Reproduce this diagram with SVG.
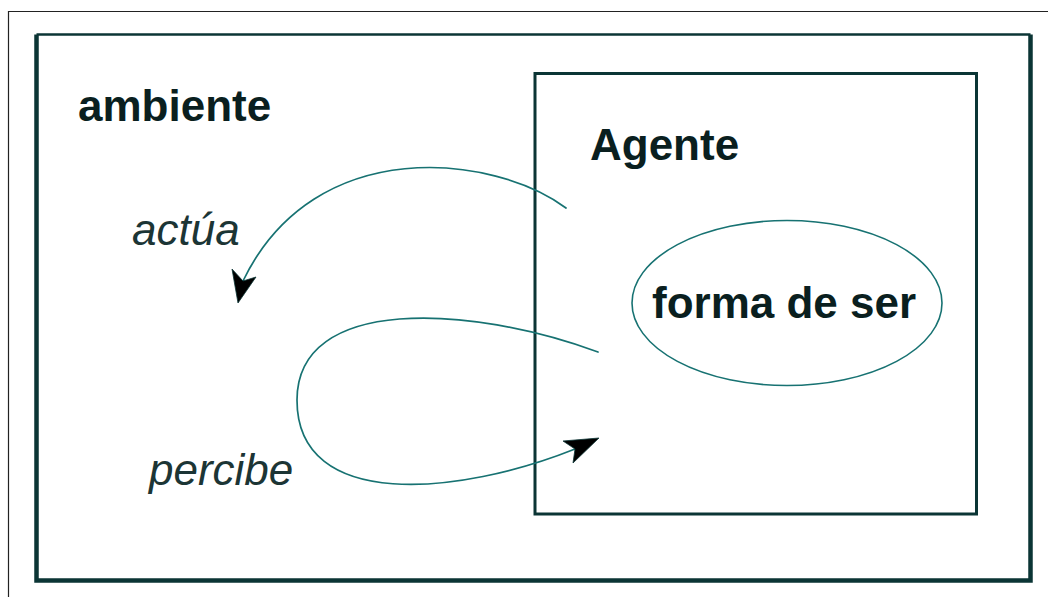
<svg xmlns="http://www.w3.org/2000/svg" width="1048" height="597" viewBox="0 0 1048 597">
  <style>
    .frame { fill: none; stroke: #222; stroke-width: 1.2; }
    .box { fill: none; stroke: #0b3535; }
    .flow { fill: none; stroke: #177272; stroke-width: 1.7; stroke-linecap: round; }
    .head { fill: #000; stroke: #0b3535; stroke-width: 0.8; stroke-linejoin: round; }
    .title { font-family: "Liberation Sans", Arial, sans-serif; font-weight: bold; font-size: 44px; fill: #0a1f1f; }
    .verb { font-family: "Liberation Sans", Arial, sans-serif; font-style: italic; font-size: 44px; fill: #1c3535; }
  </style>
  <rect width="1048" height="597" fill="#fff"/>

  <!-- page frame -->
  <path class="frame" d="M8.5,597 V11.5 H1048"/>

  <!-- environment -->
  <g id="ambiente">
    <path class="box" stroke-width="4.5" d="M36.5,34.5 V580.5 H1030.5 V34.5"/>
    <path class="box" stroke-width="2.5" d="M36.5,34.5 H1030.5"/>
    <text class="title" x="78" y="121">ambiente</text>
  </g>

  <!-- agent -->
  <g id="agente">
    <rect class="box" stroke-width="3" x="535" y="73.5" width="441.5" height="440.5"/>
    <text class="title" x="590" y="160">Agente</text>
  </g>

  <g id="forma-de-ser">
    <ellipse cx="787" cy="303" rx="155" ry="82.5" fill="none" stroke="#177272" stroke-width="1.6"/>
    <text class="title" x="652" y="318">forma de ser</text>
  </g>

  <!-- action and perception flows -->
  <g id="connectors">
    <path class="flow" d="M566,208 C495,155 315,132 243,281"/>
    <polygon class="head" points="238,303 232,269 243,281 256,277"/>
    <path class="flow" d="M598,352 C470,305 297,295 297,400 C297,512 460,495 575,449"/>
    <polygon class="head" points="599,438 563,441 575,449 573,463"/>
  </g>

  <g id="labels">
    <text class="verb" x="132" y="245">actúa</text>
    <text class="verb" x="149" y="485">percibe</text>
  </g>
</svg>
